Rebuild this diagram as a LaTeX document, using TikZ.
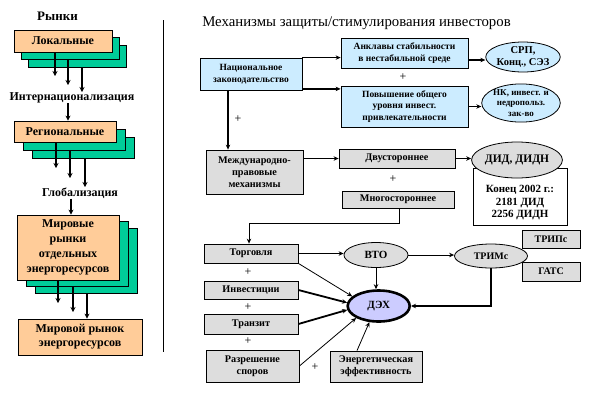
\documentclass[tikz,border=0pt]{standalone}
\usepackage{fontspec}
\setmainfont{Liberation Serif}
\usetikzlibrary{arrows.meta,shapes.geometric,calc}
\definecolor{orng}{HTML}{FFCC99}
\definecolor{grn}{HTML}{00CC99}
\definecolor{lblue}{HTML}{CCECFF}
\definecolor{lgray}{HTML}{DDDDDD}
\definecolor{lav}{HTML}{CCCCFF}
\begin{document}
\begin{tikzpicture}[x=1pt,y=-1pt,
  box/.style={draw, line width=0.8pt, inner sep=0pt, align=center, font=\bfseries},
  obox/.style={box, fill=orng, font=\bfseries\fontsize{12}{15}\selectfont},
  gbox/.style={box, fill=grn},
  bbox/.style={box, fill=lblue, font=\bfseries\fontsize{9.5}{11.5}\selectfont},
  ybox/.style={box, fill=lgray, font=\bfseries\fontsize{10.2}{12}\selectfont},
  ell/.style={draw, ellipse, line width=0.8pt, inner sep=0pt, align=center, fill=lgray, font=\bfseries\fontsize{11}{12}\selectfont},
  lbl/.style={inner sep=0pt, font=\bfseries\fontsize{12}{14}\selectfont},
  plus/.style={inner sep=0pt, font=\fontsize{12}{13}\selectfont},
  arr/.style={-{Stealth[length=5pt,width=4.5pt]}, line width=0.8pt},
  marr/.style={-{Stealth[length=5pt,width=4.5pt]}, line width=1.3pt},
  tarr/.style={-{Stealth[length=5pt,width=4.5pt]}, line width=1.8pt},
  larr/.style={-{Stealth[length=5pt,width=5pt]}, line width=1.4pt}
]
\useasboundingbox (0,0) rectangle (594,400);

% ---------------- left column ----------------
\node[lbl, font=\bfseries\fontsize{13}{14}\selectfont] (rynki) at (57.5,16) {Рынки};

\node[gbox, minimum width=98pt, minimum height=22pt] (s1c) at (77,56) {};
\node[gbox, minimum width=98pt, minimum height=22pt] (s1b) at (70,48.5) {};
\node[obox, minimum width=98pt, minimum height=22pt] (s1a) at (63,41) {Локальные};

\coordinate (e1) at (55,76);
\coordinate (e2) at (68,85);
\coordinate (e3) at (82,92);
\draw[larr] (s1a.south -| e1) -- (e1);
\draw[larr] (s1b.south -| e2) -- (e2);
\draw[larr] (s1c.south -| e3) -- (e3);

\node[lbl] (intl) at (72,98) {Интернационализация};
\coordinate (x2) at (68,0);

\node[gbox, minimum width=102pt, minimum height=21pt] (s2c) at (83,147.5) {};
\node[gbox, minimum width=102pt, minimum height=21pt] (s2b) at (74,139.5) {};
\node[obox, minimum width=102pt, minimum height=21pt] (s2a) at (65,131.5) {Региональные};
\draw[larr] (intl.south -| x2) -- (s2a.north -| x2);

\coordinate (f1) at (56,168);
\coordinate (f2) at (70,178);
\coordinate (f3) at (85,187);
\draw[larr] (s2a.south -| f1) -- (f1);
\draw[larr] (s2b.south -| f2) -- (f2);
\draw[larr] (s2c.south -| f3) -- (f3);

\node[lbl] (glob) at (80,193) {Глобализация};
\coordinate (x3) at (71,0);

\node[gbox, minimum width=102pt, minimum height=65pt] (s3c) at (86,260.5) {};
\node[gbox, minimum width=102pt, minimum height=65pt] (s3b) at (77,254) {};
\node[obox, minimum width=102pt, minimum height=65pt] (s3a) at (68,247.5) {Мировые\\рынки\\отдельных\\энергоресурсов};
\draw[larr] (glob.south -| x3) -- (s3a.north -| x3);

\node[obox, minimum width=124pt, minimum height=36pt, font=\bfseries\fontsize{12}{14}\selectfont] (world) at (80,337) {Мировой рынок\\энергоресурсов};

\coordinate (g1) at (58,303);
\coordinate (g2) at (73,312);
\coordinate (g3) at (87,0);
\draw[larr] (s3a.south -| g1) -- (g1);
\draw[larr] (s3b.south -| g2) -- (g2);
\draw[larr] (s3c.south -| g3) -- (world.north -| g3);

% separator
\coordinate (sepA) at (163,20);
\coordinate (sepB) at (163,352);
\draw[line width=0.9pt] (sepA) -- (sepB);

% ---------------- right panel ----------------
\node[inner sep=0pt, font=\fontsize{14.8}{16}\selectfont] (title) at (356.5,23) {Механизмы защиты/стимулирования инвесторов};

\node[bbox, minimum width=102pt, minimum height=32pt] (nat) at (251,74) {Национальное\\законодательство};
\node[bbox, minimum width=127pt, minimum height=30pt] (ankl) at (404.5,53) {Анклавы стабильности\\в нестабильной среде};
\node[plus] (p1) at (403,77) {+};
\node[bbox, minimum width=127pt, minimum height=41pt] (povysh) at (404.5,106.5) {Повышение общего\\уровня инвест.\\привлекательности};
\node[ell, fill=lblue, minimum width=71pt, minimum height=30pt, font=\bfseries\fontsize{10.5}{12}\selectfont] (srp) at (523,57) {СРП,\\Конц., СЭЗ};
\node[ell, fill=lblue, minimum width=70pt, minimum height=38pt, font=\bfseries\fontsize{9}{10.5}\selectfont] (nk) at (521,103) {НК, инвест. и\\недропольз.\\зак-во};

\draw[arr] (nat.north east) -- (nat.north east -| ankl.west);
\draw[tarr] ([yshift=1.5pt]nat.south east) -- ([yshift=1.5pt]nat.south east -| povysh.west);
\draw[tarr] ([yshift=-7pt]ankl.east) -- ([yshift=-7pt]ankl.east -| srp.west);
\draw[tarr] (povysh.east) -- (povysh.east -| nk.west);

\node[ybox, minimum width=97pt, minimum height=44pt] (mezhd) at (254.5,172) {Международно-\\правовые\\механизмы};
\coordinate (x4) at (228,0);
\draw[tarr] (nat.south -| x4) -- (mezhd.north -| x4);
\node[plus] (p2) at (238,119) {+};

\node[ybox, minimum width=116pt, minimum height=19pt] (dvust) at (397,158.5) {Двустороннее};
\node[plus] (p3) at (393,179) {+};
\node[ybox, minimum width=112pt, minimum height=17pt] (mnogo) at (398,199.5) {Многостороннее};
\draw[tarr] (mezhd.east |- dvust) -- (dvust.west);

\node[box, fill=white, minimum width=94pt, minimum height=57pt] (konets) at (520,196.5) {};
\node[inner sep=0pt, align=center, font=\bfseries\fontsize{11}{12.5}\selectfont] (konetsT) at (520,203) {Конец 2002 г.:\\2181 ДИД\\2256 ДИДН};
\node[ell, minimum width=81pt, minimum height=36pt, font=\bfseries\fontsize{11.5}{13}\selectfont] (did) at (517,160) {ДИД, ДИДН};
\draw[marr] (dvust.east) -- (did.west |- dvust.east);

% bottom part
\node[ybox, minimum width=94pt, minimum height=19pt] (torg) at (251,253.5) {Торговля};
\node[plus] (p4) at (248,272) {+};
\node[ybox, minimum width=94pt, minimum height=18pt] (invest) at (251,290) {Инвестиции};
\node[plus] (p5) at (248,307) {+};
\node[ybox, minimum width=94pt, minimum height=20pt] (tranzit) at (251,324) {Транзит};
\node[plus] (p6) at (248,341) {+};
\node[ybox, minimum width=93pt, minimum height=32pt] (razresh) at (252.5,366) {Разрешение\\споров};
\node[plus] (p7) at (315,367) {+};
\node[ybox, minimum width=92pt, minimum height=31pt] (energ) at (376,366.5) {Энергетическая\\эффективность};

\node[ell, minimum width=64pt, minimum height=25pt] (vto) at (376,255) {ВТО};
\node[ell, fill=lav, line width=2.6pt, minimum width=62pt, minimum height=31pt] (deh) at (378.7,306) {ДЭХ};
\node[ell, minimum width=73pt, minimum height=24pt, font=\bfseries\fontsize{10}{12}\selectfont] (trims) at (491,256) {ТРИМс};
\node[ybox, minimum width=58pt, minimum height=18pt, font=\bfseries\fontsize{10}{12}\selectfont] (trips) at (551,239) {ТРИПс};
\node[ybox, minimum width=58pt, minimum height=19pt, font=\bfseries\fontsize{10}{12}\selectfont] (gats) at (551,271.5) {ГАТС};

\coordinate (x5) at (399,0);
\coordinate (y5) at (0,223);
\coordinate (x6) at (249,0);
\draw[arr] (mnogo.south -| x5) -- (x5 |- y5) -- (x6 |- y5) -- (torg.north -| x6);

\draw[arr] (torg.east) -- (torg.east -| vto.west);
\draw[arr] (vto.east) -- (vto.east -| trims.west);
\draw[arr] (vto.south) -- (vto.south |- deh.north);
\draw[tarr] (trims.south) -- (trims.south |- deh.east) -- (deh.east);

\draw[arr] (torg.south east) -- (deh.160);
\draw[tarr] (invest.east) -- (deh.174);
\draw[tarr] (tranzit.east) -- (deh.187);
\draw[arr] (razresh.east) -- (deh.208);
\draw[arr] ([xshift=-19pt]energ.north) -- (deh.240);
\end{tikzpicture}
\end{document}
